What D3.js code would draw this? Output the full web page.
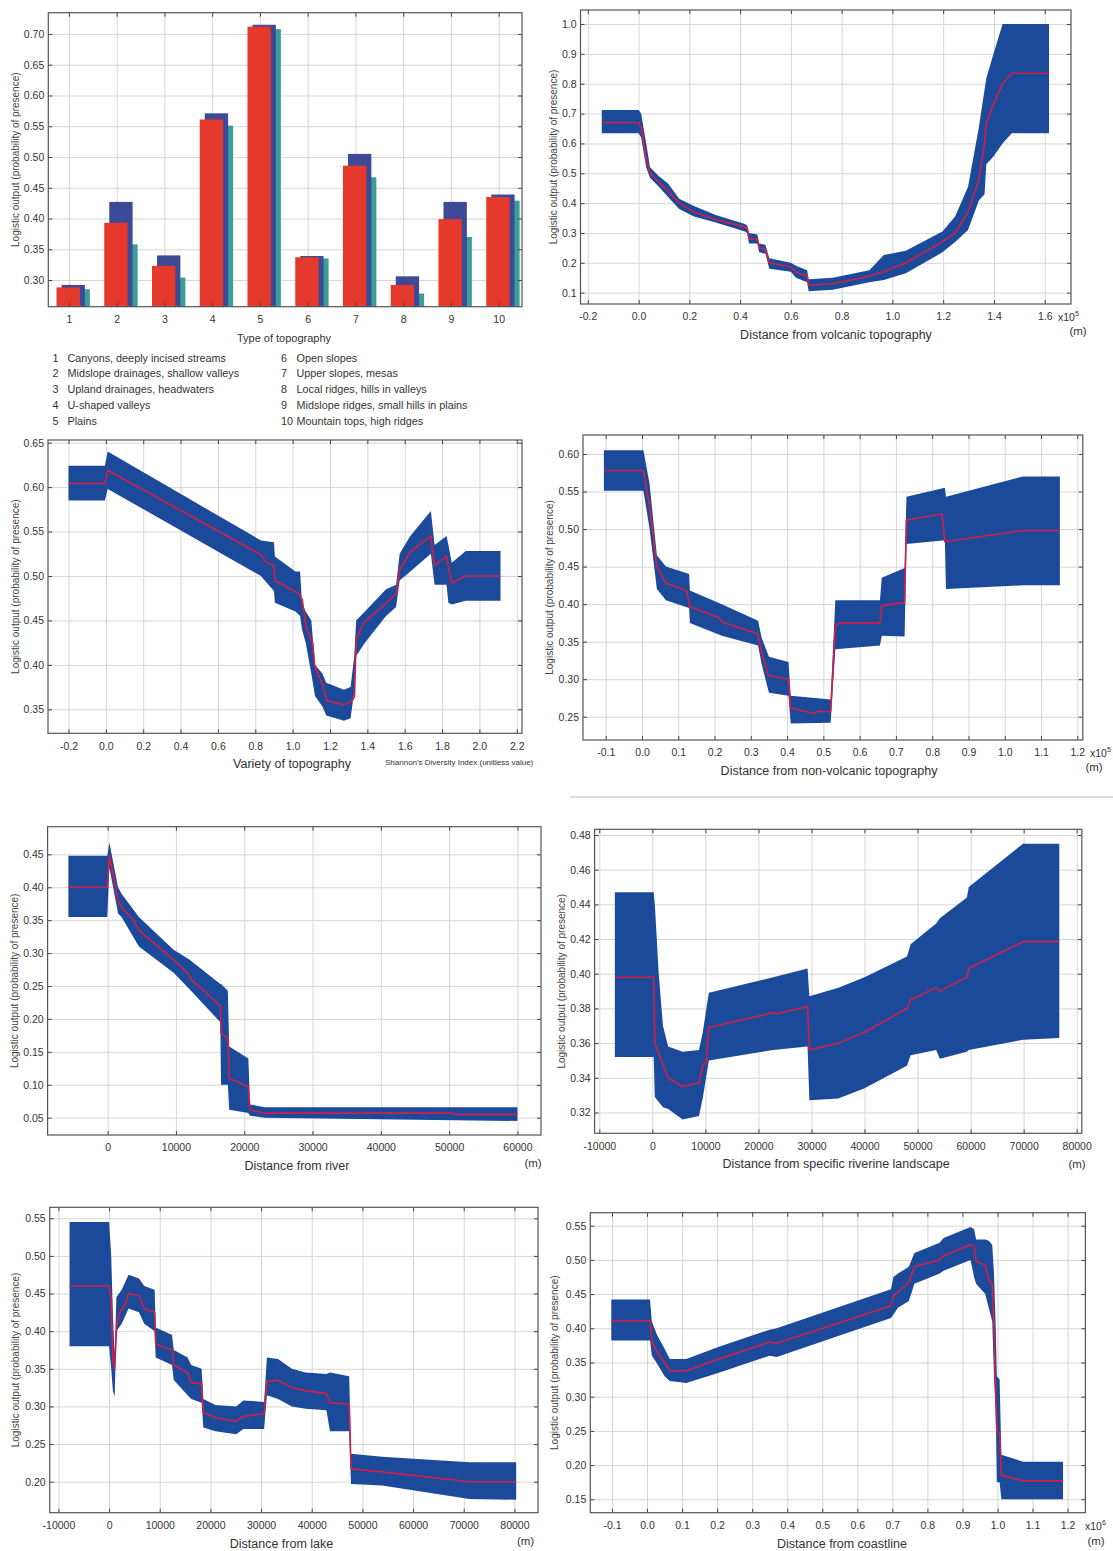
<!DOCTYPE html>
<html>
<head>
<meta charset="utf-8">
<script src="https://d3js.org/d3.v7.min.js"></script>
<style>
  body { margin: 0; background: #fff; }
  svg { display: block; font-family: "Liberation Sans", Arial, sans-serif; }
</style>
</head>
<body>
<script>
  // ---- bar chart: type of topography ----
  const topoTypes = [1, 2, 3, 4, 5, 6, 7, 8, 9, 10];
  const topoRed  = [0.288, 0.393, 0.323, 0.561, 0.712, 0.337, 0.486, 0.292, 0.399, 0.435];
  const topoBlue = [0.292, 0.427, 0.340, 0.571, 0.715, 0.339, 0.505, 0.306, 0.427, 0.439];
  const topoTeal = [0.285, 0.358, 0.304, 0.551, 0.708, 0.335, 0.467, 0.278, 0.370, 0.429];
  const topoYTicks = [0.30, 0.35, 0.40, 0.45, 0.50, 0.55, 0.60, 0.65, 0.70];
  const topoLegend = [
    "Canyons, deeply incised streams",
    "Midslope drainages, shallow valleys",
    "Upland drainages, headwaters",
    "U-shaped valleys",
    "Plains",
    "Open slopes",
    "Upper slopes, mesas",
    "Local ridges, hills in valleys",
    "Midslope ridges, small hills in plains",
    "Mountain tops, high ridges"
  ];

  // ---- response curves: [x, mean] and [x, lower, upper] ----
  const volcanicXTicks = [-0.2, 0, 0.2, 0.4, 0.6, 0.8, 1.0, 1.2, 1.4, 1.6];
  const volcanicYTicks = [0.1, 0.2, 0.3, 0.4, 0.5, 0.6, 0.7, 0.8, 0.9, 1.0];
  const volcanicMean = [[-0.145,0.67],[0.0,0.67],[0.01,0.65],[0.03,0.55],[0.045,0.50],[0.08,0.47],[0.117,0.44],
    [0.16,0.40],[0.218,0.37],[0.304,0.345],[0.419,0.32],[0.428,0.315],[0.435,0.28],[0.468,0.28],[0.475,0.25],
    [0.5,0.245],[0.515,0.20],[0.6,0.185],[0.62,0.17],[0.664,0.155],[0.67,0.125],[0.765,0.13],[0.909,0.155],
    [0.966,0.17],[1.053,0.20],[1.197,0.27],[1.247,0.30],[1.298,0.37],[1.341,0.48],[1.363,0.60],[1.37,0.667],
    [1.398,0.73],[1.434,0.80],[1.47,0.835],[1.617,0.835]];
  const volcanicBand = [[-0.145,0.634,0.712],[0.0,0.634,0.712],[0.01,0.62,0.70],[0.03,0.52,0.60],[0.045,0.485,0.52],
    [0.08,0.455,0.49],[0.117,0.42,0.465],[0.16,0.38,0.415],[0.218,0.355,0.39],[0.304,0.335,0.36],[0.419,0.305,0.33],
    [0.428,0.30,0.325],[0.435,0.265,0.30],[0.468,0.265,0.295],[0.475,0.235,0.265],[0.5,0.23,0.26],[0.515,0.18,0.215],
    [0.6,0.17,0.20],[0.62,0.15,0.19],[0.664,0.135,0.175],[0.67,0.105,0.145],[0.765,0.11,0.15],[0.909,0.135,0.175],
    [0.966,0.142,0.226],[1.053,0.165,0.24],[1.197,0.235,0.305],[1.247,0.27,0.355],[1.298,0.31,0.455],
    [1.341,0.41,0.656],[1.363,0.43,0.78],[1.37,0.53,0.818],[1.398,0.556,0.90],[1.434,0.60,1.0],[1.47,0.634,1.0],
    [1.617,0.634,1.0]];

  const varietyXTicks = [-0.2, 0, 0.2, 0.4, 0.6, 0.8, 1.0, 1.2, 1.4, 1.6, 1.8, 2.0, 2.2];
  const varietyYTicks = [0.35, 0.40, 0.45, 0.50, 0.55, 0.60, 0.65];
  const varietyMean = [[-0.2,0.604],[-0.005,0.604],[0.01,0.619],[0.83,0.524],[0.86,0.515],[0.9,0.512],[0.905,0.495],
    [1.034,0.48],[1.052,0.473],[1.071,0.443],[1.108,0.424],[1.117,0.40],[1.164,0.375],[1.182,0.36],[1.275,0.355],
    [1.32,0.36],[1.331,0.364],[1.34,0.428],[1.378,0.447],[1.499,0.469],[1.554,0.48],[1.573,0.507],[1.629,0.527],
    [1.74,0.545],[1.759,0.512],[1.824,0.522],[1.834,0.51],[1.852,0.492],[1.927,0.50],[2.113,0.50]];
  const varietyBand = [[-0.2,0.585,0.624],[-0.005,0.585,0.624],[0.01,0.598,0.64],[0.83,0.50,0.54],[0.9,0.483,0.538],
    [0.905,0.47,0.522],[1.015,0.46,0.505],[1.04,0.455,0.505],[1.05,0.44,0.47],[1.07,0.425,0.46],[1.1,0.39,0.45],
    [1.12,0.365,0.40],[1.16,0.353,0.39],[1.18,0.343,0.38],[1.275,0.337,0.372],[1.31,0.34,0.375],[1.33,0.37,0.41],
    [1.34,0.41,0.45],[1.387,0.425,0.46],[1.5,0.455,0.485],[1.554,0.465,0.49],[1.573,0.495,0.525],[1.63,0.505,0.545],
    [1.74,0.525,0.573],[1.76,0.49,0.535],[1.824,0.49,0.545],[1.834,0.47,0.535],[1.852,0.468,0.515],
    [1.927,0.472,0.528],[2.113,0.472,0.528]];

  const nonVolcXTicks = [-0.1, 0, 0.1, 0.2, 0.3, 0.4, 0.5, 0.6, 0.7, 0.8, 0.9, 1.0, 1.1, 1.2];
  const nonVolcYTicks = [0.25, 0.30, 0.35, 0.40, 0.45, 0.50, 0.55, 0.60];
  const nonVolcMean = [[-0.105,0.578],[0.004,0.578],[0.021,0.53],[0.041,0.45],[0.066,0.428],[0.122,0.418],
    [0.132,0.397],[0.212,0.382],[0.222,0.376],[0.318,0.361],[0.333,0.33],[0.348,0.305],[0.404,0.30],[0.409,0.262],
    [0.474,0.254],[0.485,0.257],[0.52,0.257],[0.533,0.37],[0.545,0.375],[0.656,0.375],[0.661,0.398],[0.724,0.402],
    [0.729,0.512],[0.827,0.52],[0.835,0.483],[1.049,0.498],[1.152,0.498]];
  const nonVolcBand = [[-0.105,0.551,0.605],[0.004,0.551,0.605],[0.021,0.50,0.56],[0.041,0.42,0.465],
    [0.066,0.405,0.45],[0.13,0.395,0.44],[0.132,0.375,0.418],[0.22,0.358,0.40],[0.32,0.345,0.378],[0.33,0.32,0.355],
    [0.35,0.282,0.33],[0.404,0.278,0.323],[0.41,0.241,0.278],[0.52,0.242,0.273],[0.533,0.34,0.405],
    [0.656,0.345,0.405],[0.661,0.358,0.435],[0.724,0.357,0.448],[0.729,0.48,0.543],[0.835,0.485,0.555],
    [0.838,0.42,0.543],[1.05,0.425,0.57],[1.152,0.425,0.57]];

  const riverXTicks = [0, 10000, 20000, 30000, 40000, 50000, 60000];
  const riverYTicks = [0.05, 0.10, 0.15, 0.20, 0.25, 0.30, 0.35, 0.40, 0.45];
  const riverMean = [[-5746,0.40],[-50,0.40],[254,0.448],[1525,0.38],[2034,0.37],[3814,0.35],[4576,0.335],
    [9660,0.29],[11700,0.27],[12200,0.26],[16526,0.22],[16600,0.178],[17645,0.17],[17800,0.11],[20600,0.097],
    [20850,0.062],[22880,0.057],[50340,0.057],[50850,0.055],[60000,0.055]];
  const riverBand = [[-5746,0.355,0.448],[-50,0.355,0.448],[254,0.43,0.468],[1525,0.36,0.40],[2034,0.355,0.39],
    [4576,0.31,0.355],[9660,0.27,0.305],[12000,0.245,0.29],[16500,0.195,0.253],[16600,0.10,0.253],
    [17600,0.10,0.243],[17800,0.062,0.158],[20600,0.057,0.14],[20850,0.053,0.07],[23000,0.05,0.066],
    [60000,0.045,0.066]];

  const riverineXTicks = [-10000, 0, 10000, 20000, 30000, 40000, 50000, 60000, 70000, 80000];
  const riverineYTicks = [0.32, 0.34, 0.36, 0.38, 0.40, 0.42, 0.44, 0.46, 0.48];
  const riverineMean = [[-7070,0.398],[250,0.398],[470,0.36],[2976,0.34],[5710,0.335],[8800,0.337],[9490,0.347],
    [10170,0.349],[10650,0.369],[22780,0.3775],[23460,0.377],[29260,0.381],[29600,0.356],[35070,0.36],
    [39850,0.366],[48000,0.38],[48700,0.385],[53500,0.392],[54200,0.39],[59300,0.398],[59650,0.403],
    [69890,0.4185],[76720,0.4185]];
  const riverineBand = [[-7070,0.352,0.447],[250,0.352,0.447],[470,0.329,0.44],[1200,0.326,0.40],[2000,0.323,0.37],
    [2976,0.322,0.358],[5710,0.316,0.355],[8800,0.318,0.356],[9490,0.328,0.366],[10650,0.35,0.389],
    [22780,0.356,0.398],[29260,0.358,0.403],[29600,0.327,0.387],[35070,0.328,0.392],[40000,0.334,0.398],
    [48000,0.347,0.41],[48700,0.353,0.417],[53500,0.356,0.429],[54200,0.351,0.432],[59300,0.355,0.444],
    [59650,0.356,0.45],[69890,0.362,0.475],[76720,0.363,0.475]];

  const lakeXTicks = [-10000, 0, 10000, 20000, 30000, 40000, 50000, 60000, 70000, 80000];
  const lakeYTicks = [0.20, 0.25, 0.30, 0.35, 0.40, 0.45, 0.50, 0.55];
  const lakeMean = [[-7800,0.46],[0,0.46],[425,0.44],[770,0.36],[1100,0.35],[1450,0.40],[1800,0.42],[2490,0.43],
    [3170,0.435],[3855,0.45],[5900,0.447],[6950,0.43],[9000,0.425],[9200,0.383],[12430,0.375],[12770,0.355],
    [15500,0.345],[16200,0.332],[18270,0.33],[18600,0.292],[21000,0.285],[25100,0.28],[26500,0.287],[30600,0.29],
    [31150,0.333],[33340,0.335],[36080,0.325],[38800,0.321],[42900,0.317],[43600,0.305],[47400,0.303],
    [47750,0.217],[53900,0.213],[71100,0.20],[80350,0.20]];
  const lakeBand = [[-7800,0.38,0.545],[0,0.38,0.545],[425,0.35,0.50],[770,0.32,0.42],[1100,0.313,0.37],
    [1450,0.40,0.445],[2490,0.41,0.455],[3855,0.43,0.475],[5900,0.425,0.47],[6950,0.41,0.46],[9000,0.40,0.455],
    [9200,0.365,0.405],[12430,0.355,0.395],[12770,0.335,0.375],[15500,0.315,0.365],[16200,0.31,0.355],
    [18270,0.305,0.35],[18600,0.272,0.31],[21000,0.267,0.302],[25100,0.263,0.30],[26500,0.27,0.308],
    [30600,0.27,0.306],[31150,0.315,0.365],[33340,0.31,0.363],[36080,0.30,0.35],[38800,0.297,0.345],
    [42900,0.295,0.343],[43600,0.267,0.345],[47400,0.267,0.34],[47750,0.197,0.237],[53900,0.195,0.233],
    [71100,0.177,0.226],[80350,0.176,0.226]];

  const coastXTicks = [-0.1, 0, 0.1, 0.2, 0.3, 0.4, 0.5, 0.6, 0.7, 0.8, 0.9, 1.0, 1.1, 1.2];
  const coastYTicks = [0.15, 0.20, 0.25, 0.30, 0.35, 0.40, 0.45, 0.50, 0.55];
  const coastMean = [[-0.102,0.411],[0.0085,0.411],[0.0137,0.38],[0.029,0.365],[0.05,0.35],[0.065,0.338],
    [0.112,0.338],[0.205,0.355],[0.35,0.38],[0.37,0.378],[0.696,0.433],[0.703,0.447],[0.716,0.453],[0.732,0.46],
    [0.747,0.467],[0.763,0.49],[0.835,0.50],[0.846,0.506],[0.923,0.522],[0.933,0.52],[0.939,0.498],[0.965,0.492],
    [0.975,0.47],[0.985,0.465],[0.99,0.40],[0.995,0.30],[0.998,0.25],[1.006,0.247],[1.011,0.185],[1.073,0.177],
    [1.187,0.177]];
  const coastBand = [[-0.102,0.382,0.442],[0.0085,0.382,0.442],[0.0137,0.36,0.41],[0.029,0.348,0.39],
    [0.05,0.33,0.37],[0.065,0.323,0.355],[0.112,0.32,0.355],[0.205,0.335,0.373],[0.35,0.36,0.398],
    [0.37,0.358,0.40],[0.696,0.415,0.457],[0.703,0.42,0.475],[0.716,0.43,0.48],[0.747,0.44,0.49],
    [0.763,0.465,0.51],[0.835,0.48,0.525],[0.846,0.484,0.532],[0.923,0.50,0.548],[0.933,0.475,0.545],
    [0.939,0.465,0.53],[0.965,0.45,0.53],[0.975,0.43,0.528],[0.985,0.41,0.522],[0.99,0.33,0.48],
    [0.995,0.28,0.40],[0.998,0.175,0.33],[1.006,0.175,0.325],[1.011,0.15,0.215],[1.073,0.15,0.205],
    [1.187,0.15,0.205]];

  const yTitle = "Logistic output (probability of presence)";

  const svg = d3.select("body").append("svg").attr("width", 1113).attr("height", 1551);
  svg.append("rect").attr("width", 1113).attr("height", 1551).attr("fill", "#fff");

  const gridColor = "#d6d6d6";
  const bandColor = "#1c4a9b";
  const lineColor = "#d21f47";

  function makePanel(o) {
    const x = d3.scaleLinear().domain(o.xDomain).range([o.left, o.right]);
    const y = d3.scaleLinear().domain(o.yDomain).range([o.bottom, o.top]);
    const w = o.right - o.left, h = o.bottom - o.top;
    const grid = svg.append("g");
    grid.append("g").attr("transform", `translate(0,${o.bottom})`)
      .call(d3.axisBottom(x).tickValues(o.xTicks).tickSize(-h).tickFormat(""));
    grid.append("g").attr("transform", `translate(${o.left},0)`)
      .call(d3.axisLeft(y).tickValues(o.yTicks).tickSize(-w).tickFormat(""));
    grid.selectAll(".domain").remove();
    grid.selectAll("line").attr("stroke", gridColor).attr("stroke-width", 1);
    return {x, y, o};
  }

  function finishPanel(p) {
    const {x, y, o} = p;
    const fr = svg.append("g");
    fr.append("g").attr("transform", `translate(0,${o.bottom})`)
      .call(d3.axisBottom(x).tickValues(o.xTicks).tickSize(-4).tickFormat(""));
    fr.append("g").attr("transform", `translate(0,${o.top})`)
      .call(d3.axisTop(x).tickValues(o.xTicks).tickSize(-4).tickFormat(""));
    fr.append("g").attr("transform", `translate(${o.left},0)`)
      .call(d3.axisLeft(y).tickValues(o.yTicks).tickSize(-4).tickFormat(""));
    fr.append("g").attr("transform", `translate(${o.right},0)`)
      .call(d3.axisRight(y).tickValues(o.yTicks).tickSize(-4).tickFormat(""));
    fr.selectAll(".domain").remove();
    fr.selectAll("line").attr("stroke", "#444");
    fr.append("rect")
      .attr("x", o.left).attr("y", o.top)
      .attr("width", o.right - o.left).attr("height", o.bottom - o.top)
      .attr("fill", "none").attr("stroke", "#555").attr("stroke-width", 1.2);

    // tick labels
    const xl = svg.append("g").attr("transform", `translate(0,${o.bottom})`)
      .call(d3.axisBottom(x).tickValues(o.xTicks).tickSize(0).tickPadding(9).tickFormat(o.xFormat));
    const yl = svg.append("g").attr("transform", `translate(${o.left},0)`)
      .call(d3.axisLeft(y).tickValues(o.yTicks).tickSize(0).tickPadding(4).tickFormat(o.yFormat));
    [xl, yl].forEach(g => {
      g.select(".domain").remove();
      g.attr("font-family", null).attr("font-size", null);
      g.selectAll("text").attr("font-size", 10.5).attr("fill", "#333");
    });

    // axis titles
    svg.append("text")
      .attr("transform", `translate(${o.yTitleX},${(o.top + o.bottom) / 2}) rotate(-90)`)
      .attr("text-anchor", "middle").attr("dy", "0.35em")
      .attr("font-size", 10).attr("fill", "#444")
      .text(yTitle);
    svg.append("text")
      .attr("x", o.titleX).attr("y", o.bottom + 35)
      .attr("text-anchor", "middle")
      .attr("font-size", o.titleSize || 12.5).attr("fill", "#333")
      .text(o.title);

    if (o.power) {
      const t = svg.append("text").attr("x", o.powerX).attr("y", o.bottom + 17)
        .attr("font-size", 10.5).attr("fill", "#333");
      t.append("tspan").text("x10");
      t.append("tspan").attr("dy", -5).attr("font-size", 7).text(o.power);
    }
    if (o.unitX) {
      svg.append("text").attr("x", o.unitX).attr("y", o.bottom + o.unitDy)
        .attr("text-anchor", "middle").attr("font-size", 11.5).attr("fill", "#333")
        .text("(m)");
    }
  }

  function drawCurve(p, mean, band) {
    const {x, y} = p;
    svg.append("path").datum(band)
      .attr("fill", bandColor)
      .attr("d", d3.area().x(d => x(d[0])).y0(d => y(d[1])).y1(d => y(d[2])));
    svg.append("path").datum(mean)
      .attr("fill", "none").attr("stroke", lineColor).attr("stroke-width", 1.6)
      .attr("stroke-linejoin", "round")
      .attr("d", d3.line().x(d => x(d[0])).y(d => y(d[1])));
  }

  const f1 = d => d.toFixed(1), f2 = d => d.toFixed(2), f0 = d => String(d);

  // ---- panel 1: bars ----
  const p1 = makePanel({left: 48.3, right: 522, top: 12.7, bottom: 306.7,
    xDomain: [0.568, 10.489], yDomain: [0.2566, 0.7346],
    xTicks: topoTypes, yTicks: topoYTicks});
  const bw = 0.489;
  const barSeries = [
    {vals: topoTeal, off: -0.05, color: "#3b9f98"},
    {vals: topoBlue, off: -0.155, color: "#3c4a97"},
    {vals: topoRed, off: -0.26, color: "#e5392c"}
  ];
  barSeries.forEach(s => {
    svg.append("g").selectAll("rect").data(topoTypes).join("rect")
      .attr("x", (d, i) => p1.x(d + s.off))
      .attr("width", p1.x(bw) - p1.x(0))
      .attr("y", (d, i) => p1.y(s.vals[i]))
      .attr("height", (d, i) => p1.y.range()[0] - p1.y(s.vals[i]))
      .attr("fill", s.color);
  });
  finishPanel({x: p1.x, y: p1.y, o: Object.assign(p1.o, {
    xFormat: f0, yFormat: f2, yTitleX: 15.5, title: "Type of topography", titleX: 284, titleSize: 11})});

  // legend under the bars
  const legend = svg.append("g").attr("font-size", 10.8).attr("fill", "#333");
  topoLegend.forEach((t, i) => {
    const col = i < 5 ? 0 : 1, row = i % 5;
    const yy = 361.5 + row * 15.9;
    legend.append("text").attr("x", col ? 281 : 52.5).attr("y", yy).text(topoTypes[i]);
    legend.append("text").attr("x", col ? 296.5 : 67.5).attr("y", yy).text(t);
  });

  // ---- panel 2: volcanic ----
  const p2 = makePanel({left: 580.5, right: 1071, top: 10, bottom: 304,
    xDomain: [-0.2288, 1.7036], yDomain: [0.062, 1.047],
    xTicks: volcanicXTicks, yTicks: volcanicYTicks});
  drawCurve(p2, volcanicMean, volcanicBand);
  finishPanel({x: p2.x, y: p2.y, o: Object.assign(p2.o, {
    xFormat: f1, yFormat: f1, yTitleX: 553, title: "Distance from volcanic topography", titleX: 836,
    power: "5", powerX: 1058, unitX: 1078, unitDy: 31})});

  // ---- panel 3: variety ----
  const p3 = makePanel({left: 48, right: 522, top: 440, bottom: 733.3,
    xDomain: [-0.3097, 2.228], yDomain: [0.323, 0.653],
    xTicks: varietyXTicks, yTicks: varietyYTicks});
  drawCurve(p3, varietyMean, varietyBand);
  finishPanel({x: p3.x, y: p3.y, o: Object.assign(p3.o, {
    xFormat: f1, yFormat: f2, yTitleX: 15.6, title: "Variety of topography", titleX: 292})});
  svg.append("text").attr("x", 385).attr("y", 764.5)
    .attr("font-size", 8).attr("fill", "#333")
    .text("Shannon's Diversity Index (unitless value)");

  // ---- panel 4: non-volcanic ----
  const p4 = makePanel({left: 583, right: 1082.8, top: 435, bottom: 740,
    xDomain: [-0.1626, 1.2152], yDomain: [0.219, 0.6253],
    xTicks: nonVolcXTicks, yTicks: nonVolcYTicks});
  drawCurve(p4, nonVolcMean, nonVolcBand);
  finishPanel({x: p4.x, y: p4.y, o: Object.assign(p4.o, {
    xFormat: f1, yFormat: f2, yTitleX: 549, title: "Distance from non-volcanic topography", titleX: 829,
    power: "5", powerX: 1090, unitX: 1094, unitDy: 31})});

  // ---- panel 5: river ----
  const p5 = makePanel({left: 47.6, right: 541, top: 826.7, bottom: 1135,
    xDomain: [-8790, 63452], yDomain: [0.0237, 0.492],
    xTicks: riverXTicks, yTicks: riverYTicks});
  drawCurve(p5, riverMean, riverBand);
  finishPanel({x: p5.x, y: p5.y, o: Object.assign(p5.o, {
    xFormat: f0, yFormat: f2, yTitleX: 14, title: "Distance from river", titleX: 297,
    unitX: 533, unitDy: 32})});

  // ---- panel 6: specific riverine landscape ----
  const p6 = makePanel({left: 594.6, right: 1081.8, top: 829.3, bottom: 1133.3,
    xDomain: [-10886, 80962], yDomain: [0.308, 0.4833],
    xTicks: riverineXTicks, yTicks: riverineYTicks});
  drawCurve(p6, riverineMean, riverineBand);
  finishPanel({x: p6.x, y: p6.y, o: Object.assign(p6.o, {
    xFormat: f0, yFormat: f2, yTitleX: 561, title: "Distance from specific riverine landscape", titleX: 836,
    unitX: 1077, unitDy: 35})});

  // ---- panel 7: lake ----
  const p7 = makePanel({left: 49.7, right: 538, top: 1207.3, bottom: 1512.7,
    xDomain: [-11717, 84658], yDomain: [0.1588, 0.5646],
    xTicks: lakeXTicks, yTicks: lakeYTicks});
  drawCurve(p7, lakeMean, lakeBand);
  finishPanel({x: p7.x, y: p7.y, o: Object.assign(p7.o, {
    xFormat: f0, yFormat: f2, yTitleX: 15.6, title: "Distance from lake", titleX: 281.5,
    unitX: 525.5, unitDy: 32})});

  // ---- panel 8: coastline ----
  const p8 = makePanel({left: 590.3, right: 1085.4, top: 1212.7, bottom: 1512.7,
    xDomain: [-0.1619, 1.2508], yDomain: [0.1304, 0.569],
    xTicks: coastXTicks, yTicks: coastYTicks});
  drawCurve(p8, coastMean, coastBand);
  finishPanel({x: p8.x, y: p8.y, o: Object.assign(p8.o, {
    xFormat: f1, yFormat: f2, yTitleX: 554, title: "Distance from coastline", titleX: 842,
    power: "6", powerX: 1085, unitX: 1096, unitDy: 32})});

  // thin divider between the middle rows on the right
  svg.append("line").attr("x1", 570).attr("x2", 1113).attr("y1", 797).attr("y2", 797)
    .attr("stroke", "#dcdcdc").attr("stroke-width", 2);
</script>
</body>
</html>
